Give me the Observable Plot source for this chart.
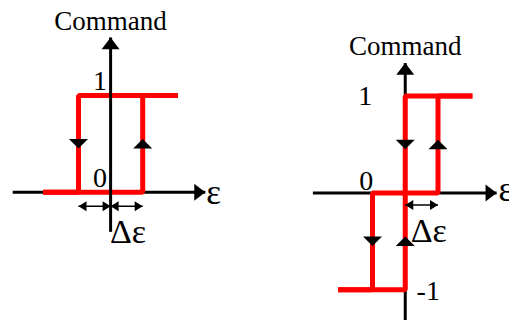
<!DOCTYPE html>
<html>
<head>
<meta charset="utf-8">
<script src="https://cdn.jsdelivr.net/npm/d3@7"></script>
<script src="https://cdn.jsdelivr.net/npm/@observablehq/plot@0.6"></script>
<style>
  html, body { margin: 0; padding: 0; background: #fff; }
  #wrap { position: relative; width: 509px; height: 320px; overflow: hidden; background: #fff; }
  #left { position: absolute; left: 0; top: 0; }
  #right { position: absolute; left: 255px; top: 0; }
</style>
</head>
<body>
<div id="wrap"><div id="left"></div><div id="right"></div></div>
<script>
// ---------- Data: hysteresis (left panel) ----------
const hystRiseE = [-2.1, 1, 1, 2.1];
const hystRiseC = [0, 0, 1, 1];
const hystFallE = [2.1, -1, -1, -2.1];
const hystFallC = [1, 1, 0, 0];
const hystArrowE = [-1, 1];
const hystArrowC = [0.5, 0.5];
const hystArrowDir = ["down", "up"];
const hystTicks = [0, 1];
const hystSpanStart = [-1, 0];
const hystSpanEnd = [0, 1];
const hystAxisE = [-3.05, 2.95];
const hystAxisC = [-0.41, 1.6];

// ---------- Data: three-level relay with hysteresis (right panel) ----------
const relayRiseE = [-2.05, 0, 0, 1, 1, 2.05];
const relayRiseC = [-1, -1, 0, 0, 1, 1];
const relayFallE = [2.05, 0, 0, -1, -1, -2.05];
const relayFallC = [1, 1, 0, 0, -1, -1];
const relayArrowE = [0, 1, -1, 0];
const relayArrowC = [0.5, 0.5, -0.5, -0.5];
const relayArrowDir = ["down", "up", "down", "up"];
const relayTicks = [1, 0, -1];
const relaySpanStart = [0];
const relaySpanEnd = [1];
const relayAxisE = [-2.82, 2.79];
const relayAxisC = [-1.4, 1.34];

const yLabel = "Command";
const xLabel = "ε";
const deltaLabel = "Δε";

// ---------- helpers ----------
const pts = (E, C) => E.map((e, i) => ({e, c: C[i]}));
const centredTri = {
  draw(ctx, size) {
    const r = Math.sqrt(size / Math.PI);
    ctx.moveTo(0, -r / 2); ctx.lineTo(r, r / 2); ctx.lineTo(-r, r / 2); ctx.closePath();
  }
};
const tipTri = (ratio) => ({
  draw(ctx, size) {
    const r = Math.sqrt(size / Math.PI);
    ctx.moveTo(0, 0); ctx.lineTo(r, ratio * r); ctx.lineTo(-r, ratio * r); ctx.closePath();
  }
});
const axisHead = tipTri(1.3);
const smallHead = tipTri(1.6);
const FONT = "Liberation Serif";
const RED = "#ff0000";

function redMarks(riseE, riseC, fallE, fallC) {
  return [
    Plot.line(pts(riseE, riseC), {x: "e", y: "c", stroke: RED, strokeWidth: 5, strokeLinejoin: "miter", strokeLinecap: "butt"}),
    Plot.line(pts(fallE, fallC), {x: "e", y: "c", stroke: RED, strokeWidth: 5, strokeLinejoin: "miter", strokeLinecap: "butt"})
  ];
}
function xAxisMarks(axisE) {
  return [
    Plot.link([0], {x1: axisE[0], x2: axisE[1], y1: 0, y2: 0, stroke: "black", strokeWidth: 3}),
    Plot.dot([0], {x: axisE[1], y: 0, symbol: axisHead, r: 8.5, fill: "black", stroke: "none", rotate: 90})
  ];
}
function yAxisMarks(axisC) {
  return [
    Plot.link([0], {x1: 0, x2: 0, y1: axisC[0], y2: axisC[1], stroke: "black", strokeWidth: 3}),
    Plot.dot([0], {x: 0, y: axisC[1], symbol: axisHead, r: 9, fill: "black", stroke: "none"})
  ];
}
function flowArrows(E, C, dir) {
  const data = pts(E, C).map((d, i) => ({...d, dir: dir[i]}));
  return [
    Plot.dot(data.filter(d => d.dir === "up"), {x: "e", y: "c", symbol: centredTri, r: 9.5, fill: "black", stroke: "none"}),
    Plot.dot(data.filter(d => d.dir === "down"), {x: "e", y: "c", symbol: centredTri, r: 9.5, fill: "black", stroke: "none", rotate: 180})
  ];
}
function spanMarks(S, E, dy) {
  const data = S.map((s, i) => ({s, t: E[i]}));
  return [
    Plot.link(data, {x1: "s", x2: "t", y1: 0, y2: 0, dy, stroke: "black", strokeWidth: 1.5}),
    Plot.dot(data, {x: "s", y: 0, dy, symbol: smallHead, r: 5, fill: "black", stroke: "none", rotate: -90}),
    Plot.dot(data, {x: "t", y: 0, dy, symbol: smallHead, r: 5, fill: "black", stroke: "none", rotate: 90})
  ];
}
const T = {fontFamily: FONT, fill: "black", lineAnchor: "bottom"};

// ---------- Left panel ----------
const left = Plot.plot({
  width: 255, height: 320, margin: 0,
  x: {domain: [-1, 1], range: [78, 142.2], axis: null},
  y: {domain: [0, 1], range: [191.7, 95], axis: null},
  style: {fontFamily: FONT, background: "white", overflow: "visible"},
  marks: [
    ...xAxisMarks(hystAxisE),
    ...redMarks(hystRiseE, hystRiseC, hystFallE, hystFallC),
    ...yAxisMarks(hystAxisC),
    ...flowArrows(hystArrowE, hystArrowC, hystArrowDir),
    ...spanMarks(hystSpanStart, hystSpanEnd, 14),
    Plot.text([yLabel], {...T, x: 0, y: hystAxisC[1], text: d => d, dy: -7.5, fontSize: 27}),
    Plot.text(hystTicks, {...T, x: 0, y: d => d, text: d => String(d), dx: -10.5, dy: -5.5, fontSize: 28}),
    Plot.text([xLabel], {...T, x: hystAxisE[1], y: 0, text: d => d, dx: 1, dy: 11.5, textAnchor: "start", fontSize: 35}),
    Plot.text([deltaLabel], {...T, x: 0, y: 0, text: d => d, dx: -0.7, dy: 51, textAnchor: "start", fontSize: 34})
  ]
});
document.getElementById("left").appendChild(left);

// ---------- Right panel ----------
const tickDx = {"1": -40, "0": -39, "-1": 23};
const tickDy = {"1": 8.5, "0": -3, "-1": 10};
const right = Plot.plot({
  width: 254, height: 320, margin: 0,
  x: {domain: [-1, 1], range: [117, 182.5], axis: null},
  y: {domain: [-1, 1], range: [289.3, 95.5], axis: null},
  style: {fontFamily: FONT, background: "white", overflow: "visible"},
  marks: [
    ...xAxisMarks(relayAxisE),
    ...yAxisMarks(relayAxisC),
    ...redMarks(relayRiseE, relayRiseC, relayFallE, relayFallC),
    ...flowArrows(relayArrowE, relayArrowC, relayArrowDir),
    ...spanMarks(relaySpanStart, relaySpanEnd, 12),
    Plot.text([yLabel], {...T, x: 0, y: relayAxisC[1], text: d => d, dy: -8.3, fontSize: 27}),
    ...relayTicks.map(t => Plot.text([t], {...T, x: 0, y: d => d, text: d => String(d), dx: tickDx[String(t)], dy: tickDy[String(t)], fontSize: 28})),
    Plot.text([xLabel], {...T, x: relayAxisE[1], y: 0, text: d => d, dx: 2, dy: 8.5, textAnchor: "start", fontSize: 35}),
    Plot.text([deltaLabel], {...T, x: 0, y: 0, text: d => d, dx: 5.5, dy: 48.7, textAnchor: "start", fontSize: 34})
  ]
});
document.getElementById("right").appendChild(right);
</script>
</body>
</html>
